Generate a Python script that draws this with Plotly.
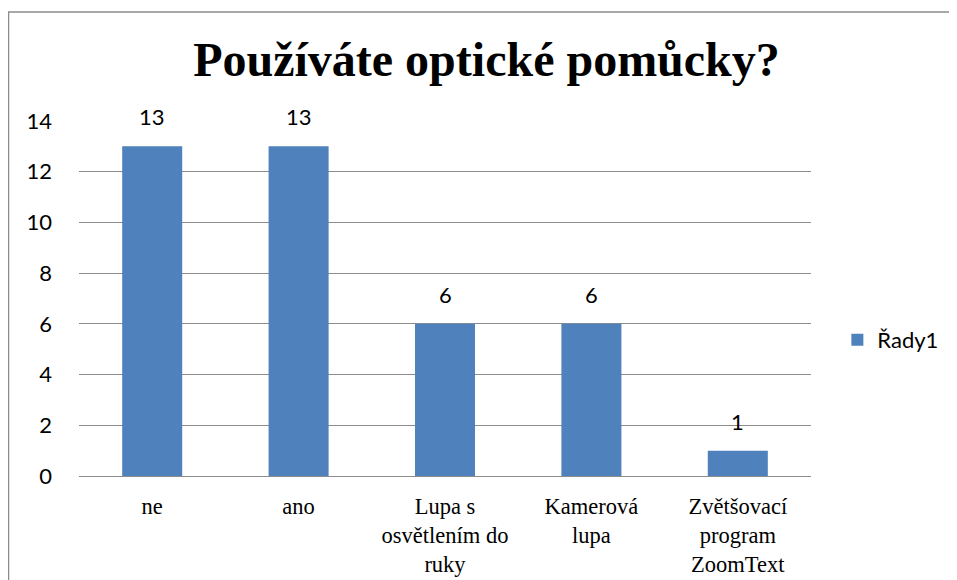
import plotly.graph_objects as go

categories = ["ne", "ano", "Lupa s<br>osvětlením do<br>ruky", "Kamerová<br>lupa", "Zvětšovací<br>program<br>ZoomText"]
values = [13, 13, 6, 6, 1]
series_name = "Řady1"
title_text = "Používáte optické pomůcky?"
y_ticks = [0, 2, 4, 6, 8, 10, 12, 14]

BAR = "#4F81BD"
GRID = "#8C8C8C"
SANS = "Lato, Liberation Sans, sans-serif"
SERIF = "Liberation Serif, Times New Roman, serif"

fig = go.Figure()
fig.add_trace(go.Bar(
    x=categories, y=values, name=series_name,
    marker=dict(color=BAR, line=dict(width=0)),
    showlegend=True,
))
for c, v in zip(categories, values):
    fig.add_annotation(x=c, y=v, text=str(v), showarrow=False,
                       yanchor="bottom", yshift=14,
                       font=dict(family=SANS, size=22, color="#000"))

fig.update_layout(
    width=957, height=580,
    margin=dict(l=71, r=154, t=113, b=112, autoexpand=False),
    paper_bgcolor="white", plot_bgcolor="white",
    bargap=0.59,
    title=dict(text="<b>" + title_text + "</b>", x=0.5, xanchor="center",
               y=0.912, yanchor="middle",
               font=dict(family=SERIF, size=48, color="#000")),
    showlegend=True,
    legend=dict(x=1.036, xanchor="left", y=0.383, yanchor="middle",
                font=dict(family=SANS, size=22, color="#000"),
                bgcolor="rgba(0,0,0,0)"),
    xaxis=dict(showline=False, showgrid=False, ticks="", automargin=False,
               ticklabelstandoff=14,
               tickfont=dict(family=SERIF, size=22.5, color="#000")),
    yaxis=dict(range=[0, 14], tickvals=y_ticks, showgrid=True, automargin=False,
               gridcolor=GRID, gridwidth=1.3, zeroline=True,
               zerolinecolor=GRID, zerolinewidth=1.3, showline=False,
               ticks="", ticklabelstandoff=26,
               tickfont=dict(family=SANS, size=22, color="#000")),
    shapes=[dict(type="rect", xref="paper", yref="paper",
                 x0=-0.0963, x1=1.4, y0=-0.5, y1=1.307,
                 line=dict(color="#8C8C8C", width=1.5), fillcolor="rgba(0,0,0,0)",
                 layer="below")],
)

fig.write_html("out.html")
